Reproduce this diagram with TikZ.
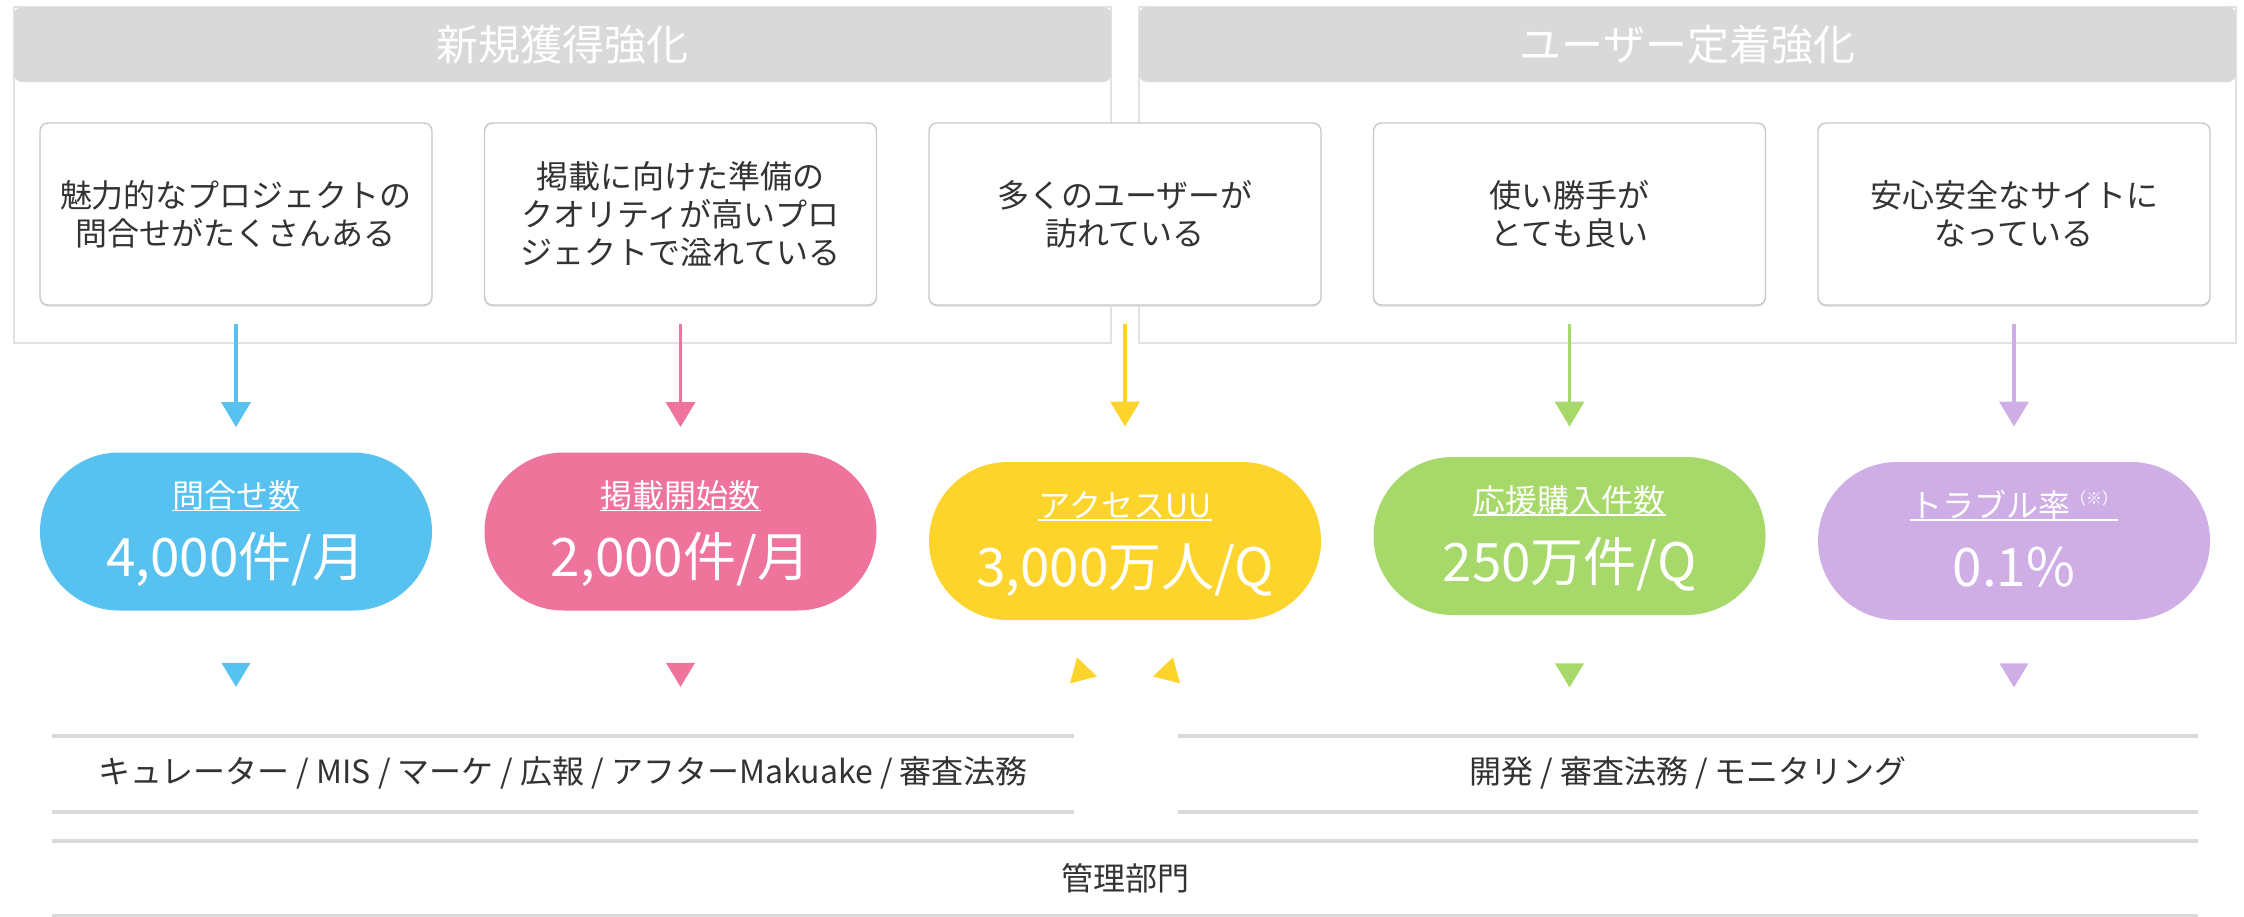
\documentclass[tikz,border=0pt]{standalone}
\usepackage{fontspec}
\setmainfont{Noto Sans CJK JP}
\usetikzlibrary{arrows.meta,calc,shadows}
\definecolor{cblue}{HTML}{57C2F0}
\definecolor{cpink}{HTML}{EE749B}
\definecolor{cyellow}{HTML}{FDD42B}
\definecolor{cgreen}{HTML}{A6D86A}
\definecolor{cpurple}{HTML}{CFAEE6}
\definecolor{hdrgray}{HTML}{D9D9D9}
\definecolor{framegray}{HTML}{E2E2E2}
\definecolor{cardgray}{HTML}{C8C8C8}
\definecolor{bargray}{HTML}{DADADA}
\definecolor{txt}{HTML}{333333}
\tikzset{
  frame/.style={draw=framegray, line width=0.75pt, minimum width=548.5pt, minimum height=168pt, inner sep=0pt},
  hdr/.style={fill=hdrgray, rounded corners=4pt, minimum width=548.5pt, minimum height=37.5pt, inner sep=0pt, text=white, font=\fontsize{21pt}{21pt}\selectfont},
  card/.style={draw=cardgray, line width=0.7pt, rounded corners=4pt, fill=white, minimum width=196pt, minimum height=91pt, inner sep=0pt, align=center, text=txt, font=\fontsize{16pt}{19pt}\selectfont, drop shadow={shadow xshift=0pt, shadow yshift=-0.9pt, opacity=1, fill=black!10}},
  pill/.style={rounded corners=39.5pt, minimum width=196pt, minimum height=79pt, inner sep=0pt},
  plabel/.style={text=white, inner sep=0pt, anchor=base, font=\fontsize{16pt}{16pt}\selectfont},
  pval/.style={text=white, inner sep=0pt, anchor=base, font=\fontsize{26.5pt}{26.5pt}\selectfont},
  uline/.style={draw=white, line width=0.7pt},
  feed/.style={line width=1.65pt, -{Triangle[length=12.5pt, width=14.5pt]}},
  bar/.style={draw=bargray, line width=2pt},
  bartext/.style={text=txt, inner sep=0pt, font=\fontsize{16pt}{16pt}\selectfont},
}
\begin{document}
\begin{tikzpicture}[x=0.5pt,y=-0.5pt]
\useasboundingbox (0,0) rectangle (2244,916);

% group frames and headers
\node[frame] (fl) at (562.5,175) {};
\node[frame] (fr) at (1687.5,175) {};
\node[hdr] (hl) at (562.5,44.5) {新規獲得強化};
\node[hdr] (hr) at (1687.5,44.5) {ユーザー定着強化};

% cards
\node[card] (c1) at (236,214) {魅力的なプロジェクトの\\問合せがたくさんある};
\node[card] (c2) at (680.5,214) {掲載に向けた準備の\\クオリティが高いプロ\\ジェクトで溢れている};
\node[card] (c3) at (1125,214) {多くのユーザーが\\訪れている};
\node[card] (c4) at (1569.5,214) {使い勝手が\\とても良い};
\node[card] (c5) at (2014,214) {安心安全なサイトに\\なっている};

% pills
\node[pill, fill=cblue] (p1) at (236,531.5) {};
\node[pill, fill=cpink] (p2) at (680.5,531.5) {};
\node[pill, fill=cyellow] (p3) at (1125,541) {};
\node[pill, fill=cgreen] (p4) at (1569.5,536) {};
\node[pill, fill=cpurple] (p5) at (2014,541) {};

\node[plabel] (l1) at ($(p1.center)+(0,-24)$) {問合せ数};
\node[plabel] (l2) at ($(p2.center)+(0,-24)$) {掲載開始数};
\node[plabel] (l3) at ($(p3.center)+(0,-24)$) {アクセスUU};
\node[plabel] (l4) at ($(p4.center)+(0,-24)$) {応援購入件数};
\node[plabel] (l5) at ($(p5.center)+(0,-24)$) {トラブル率\raisebox{6.5pt}{\fontsize{8pt}{8pt}\selectfont （※）}};
\foreach \n in {l1,l2,l3,l4,l5}{
  \draw[uline] ([yshift=-1.5pt]\n.base west) -- ([yshift=-1.5pt]\n.base east);
}

\node[pval] (v1) at ($(p1.center)+(0,45)$) {4,000件/月};
\node[pval] (v2) at ($(p2.center)+(0,45)$) {2,000件/月};
\node[pval] (v3) at ($(p3.center)+(0,45)$) {3,000万人/Q};
\node[pval] (v4) at ($(p4.center)+(0,45)$) {250万件/Q};
\node[pval] (v5) at ($(p5.center)+(0,45)$) {0.1\%};

% arrows from cards to pills
\draw[feed, cblue] ([yshift=-9pt]c1.south) -- ([yshift=12.5pt]p1.north);
\draw[feed, cpink] ([yshift=-9pt]c2.south) -- ([yshift=12.5pt]p2.north);
\draw[feed, cyellow] ([yshift=-9pt]c3.south) -- ([yshift=17.5pt]p3.north);
\draw[feed, cgreen] ([yshift=-9pt]c4.south) -- ([yshift=15pt]p4.north);
\draw[feed, cpurple] ([yshift=-9pt]c5.south) -- ([yshift=17.5pt]p5.north);

% marks below pills
\fill[cblue] ($(p1.south)+(-14.5,52)$) -- ($(p1.south)+(14.5,52)$) -- ($(p1.south)+(0,76)$) -- cycle;
\fill[cpink] ($(p2.south)+(-14.5,52)$) -- ($(p2.south)+(14.5,52)$) -- ($(p2.south)+(0,76)$) -- cycle;
\fill[cgreen] ($(p4.south)+(-14.5,48)$) -- ($(p4.south)+(14.5,48)$) -- ($(p4.south)+(0,72)$) -- cycle;
\fill[cpurple] ($(p5.south)+(-14.5,43)$) -- ($(p5.south)+(14.5,43)$) -- ($(p5.south)+(0,67)$) -- cycle;
\fill[cyellow] ($(p3.south)+(-48,37)$) -- ($(p3.south)+(-28,56)$) -- ($(p3.south)+(-55,63)$) -- cycle;
\fill[cyellow] ($(p3.south)+(48,37)$) -- ($(p3.south)+(28,56)$) -- ($(p3.south)+(55,63)$) -- cycle;

% department bars
\draw[bar] (52,736) -- (1074,736);
\draw[bar] (52,812) -- (1074,812);
\draw[bar] (1178,736) -- (2198,736);
\draw[bar] (1178,812) -- (2198,812);
\draw[bar] (52,841) -- (2198,841);
\draw[bar] (52,916) -- (2198,916);
\node[bartext] (b1) at (563,773) {キュレーター / MIS / マーケ / 広報 / アフターMakuake / 審査法務};
\node[bartext] (b2) at (1688,773) {開発 / 審査法務 / モニタリング};
\node[bartext] (b3) at (1125,878) {管理部門};
\end{tikzpicture}
\end{document}
